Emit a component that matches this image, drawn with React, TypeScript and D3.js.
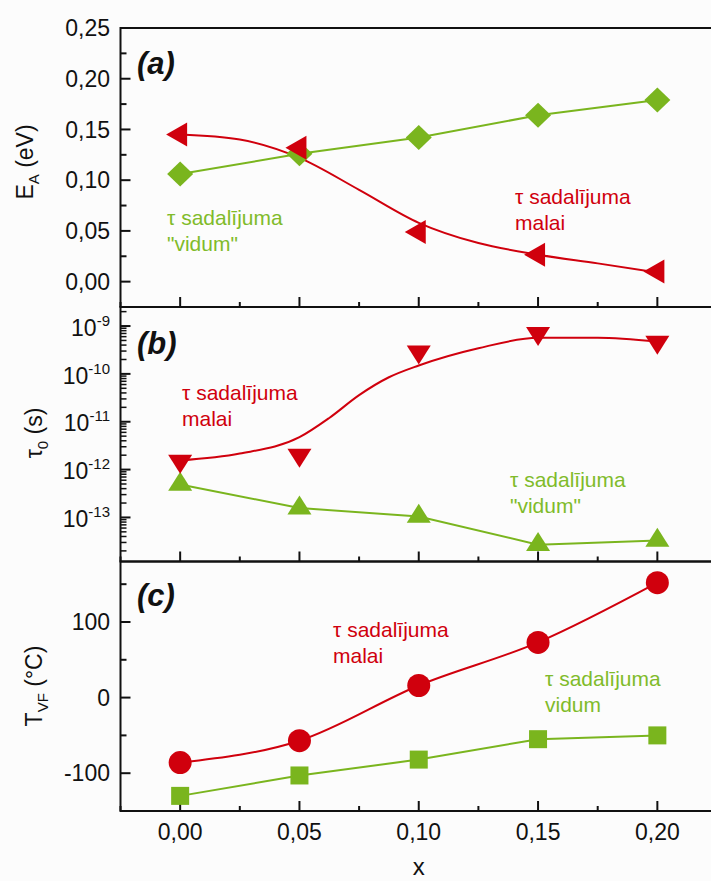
import React from 'react';
import * as d3 from 'd3';

// Composition x shared by the three panels
const X_VALUES = [0, 0.05, 0.1, 0.15, 0.2];
const X_TICKS = [0, 0.05, 0.1, 0.15, 0.2];
const X_MINOR = [-0.025, 0.025, 0.075, 0.125, 0.175];

// (a) activation energy E_A (eV)
const EA_MIDDLE = [0.106, 0.126, 0.142, 0.164, 0.179];
const EA_EDGE = [0.145, 0.132, 0.049, 0.0266, 0.0101];
const EA_FIT_X = [0, 0.025, 0.05, 0.075, 0.1, 0.125, 0.15, 0.175, 0.2];
const EA_EDGE_FIT = [0.145, 0.14, 0.122, 0.0905, 0.058, 0.038, 0.0266, 0.018, 0.009];
const EA_TICKS = [0, 0.05, 0.1, 0.15, 0.2, 0.25];
const EA_MINOR = [-0.025, 0.025, 0.075, 0.125, 0.175, 0.225];

// (b) pre-exponential time tau_0 (s)
const TAU_MIDDLE = [4.9e-13, 1.57e-13, 1.05e-13, 2.7e-14, 3.3e-14];
const TAU_EDGE = [1.5e-12, 2.0e-12, 2.9e-10, 7.0e-10, 4.6e-10];
const TAU_FIT_X = [0, 0.025, 0.05, 0.0625, 0.075, 0.0875, 0.1, 0.125, 0.15, 0.175, 0.2];
const TAU_EDGE_FIT = [
  1.55e-12, 2.16e-12, 4.75e-12, 1.2e-11, 3.6e-11, 8.5e-11, 1.5e-10, 3.44e-10, 5.66e-10, 5.66e-10, 4.67e-10,
];
const TAU_DECADES = [-13, -12, -11, -10, -9];

// (c) Vogel-Fulcher temperature T_VF (°C)
const TVF_EDGE = [-86, -57, 16, 73, 152];
const TVF_MIDDLE = [-130, -103, -82, -55, -50];
const TVF_TICKS = [-100, 0, 100];
const TVF_MINOR = [-150, -50, 50, 150];

const RED = '#d0000d';
const GREEN = '#7ab51e';
const LABEL_GREEN = '#80bb2a';
const FONT = '"Liberation Sans", Arial, Helvetica, sans-serif';

const fmt2 = (v: number) => d3.format('.2f')(v).replace('.', ',');

export default function App() {
  const x = d3.scaleLinear().domain([-0.025, 0.225]).range([120.5, 717]);
  const yA = d3.scaleLinear().domain([-0.025, 0.25]).range([307, 28]);
  const yB = d3.scaleLog().domain([1.2e-14, 2.5e-9]).range([561.5, 307]);
  const yC = d3.scaleLinear().domain([-150, 180]).range([811, 561.5]);

  const left = x(-0.025);
  const right = x(0.225);

  const straight = (ys: number[], y: (v: number) => number) =>
    d3.line<number>().x((_, i) => x(X_VALUES[i])).y((v) => y(v))(ys) || '';
  const smooth = (xs: number[], ys: number[], y: (v: number) => number) =>
    d3
      .line<number>()
      .x((_, i) => x(xs[i]))
      .y((v) => y(v))
      .curve(d3.curveMonotoneX)(ys) || '';

  const diamond = (cx: number, cy: number) =>
    `M${cx},${cy - 12.5}L${cx + 13},${cy}L${cx},${cy + 12.5}L${cx - 13},${cy}Z`;
  const leftTri = (cx: number, cy: number) => {
    const w = 21, h = 24;
    return `M${cx - (2 * w) / 3},${cy}L${cx + w / 3},${cy - h / 2}L${cx + w / 3},${cy + h / 2}Z`;
  };
  const downTri = (cx: number, cy: number) => {
    const w = 24, h = 19;
    return `M${cx - w / 2},${cy - h / 3}L${cx + w / 2},${cy - h / 3}L${cx},${cy + (2 * h) / 3}Z`;
  };
  const upTri = (cx: number, cy: number) => {
    const w = 24, h = 19;
    return `M${cx - w / 2},${cy + h / 3}L${cx + w / 2},${cy + h / 3}L${cx},${cy - (2 * h) / 3}Z`;
  };

  const panels = [
    { top: yA.range()[1], bottom: yA.range()[0] },
    { top: yB.range()[1], bottom: yB.range()[0] },
    { top: yC.range()[1], bottom: yC.range()[0] },
  ];

  const logMinor: number[] = [];
  for (let e = -14; e <= -9; e++) {
    for (let m = 2; m <= 9; m++) {
      const v = m * Math.pow(10, e);
      const [d0, d1] = yB.domain();
      if (v > d0 && v < d1) logMinor.push(v);
    }
  }

  const tickLabel = { fontFamily: FONT, fontSize: 23, fill: '#111' } as const;
  const noteStyle = (color: string) => ({ fontFamily: FONT, fontSize: 21, fill: color });

  const note = (lines: string[], tx: number, ty: number, color: string) => (
    <text x={tx} y={ty} style={noteStyle(color)}>
      {lines.map((l, i) => (
        <tspan key={i} x={tx} dy={i === 0 ? 0 : 26}>
          {l}
        </tspan>
      ))}
    </text>
  );

  return (
    <svg
      width={711}
      height={881}
      style={{ position: 'absolute', left: 0, top: 0, display: 'block' }}
    >
      <rect x={0} y={0} width={711} height={881} fill="#fcfcfc" />

      {/* frames and bottom ticks of each panel */}
      {panels.map((p, i) => (
        <g key={i}>
          <rect
            x={left}
            y={p.top}
            width={right - left}
            height={p.bottom - p.top}
            fill="none"
            stroke="#111"
            strokeWidth={2}
          />
          {X_TICKS.map((t) => (
            <line key={'M' + t} x1={x(t)} x2={x(t)} y1={p.bottom} y2={p.bottom - 10} stroke="#111" strokeWidth={2} />
          ))}
          {X_MINOR.map((t) => (
            <line key={'m' + t} x1={x(t)} x2={x(t)} y1={p.bottom} y2={p.bottom - 5} stroke="#111" strokeWidth={2} />
          ))}
        </g>
      ))}

      {/* (a) left axis */}
      {EA_TICKS.map((t) => (
        <g key={'a' + t}>
          <line x1={left} x2={left + 10} y1={yA(t)} y2={yA(t)} stroke="#111" strokeWidth={2} />
          <text x={110} y={yA(t)} dy="0.36em" textAnchor="end" style={tickLabel}>
            {fmt2(t)}
          </text>
        </g>
      ))}
      {EA_MINOR.map((t) => (
        <line key={'am' + t} x1={left} x2={left + 6} y1={yA(t)} y2={yA(t)} stroke="#111" strokeWidth={2} />
      ))}

      {/* (b) left log axis */}
      {TAU_DECADES.map((e) => {
        const v = Math.pow(10, e);
        return (
          <g key={'b' + e}>
            <line x1={left} x2={left + 10} y1={yB(v)} y2={yB(v)} stroke="#111" strokeWidth={2} />
            <text x={110} y={yB(v)} dy="0.42em" textAnchor="end" style={tickLabel}>
              <tspan>10</tspan>
              <tspan dy={-10} fontSize={15}>
                {String(e)}
              </tspan>
            </text>
          </g>
        );
      })}
      {logMinor.map((v) => (
        <line key={'bm' + v} x1={left} x2={left + 6} y1={yB(v)} y2={yB(v)} stroke="#111" strokeWidth={1.5} />
      ))}

      {/* (c) left axis */}
      {TVF_TICKS.map((t) => (
        <g key={'c' + t}>
          <line x1={left} x2={left + 10} y1={yC(t)} y2={yC(t)} stroke="#111" strokeWidth={2} />
          <text x={110} y={yC(t)} dy="0.36em" textAnchor="end" style={tickLabel}>
            {String(t)}
          </text>
        </g>
      ))}
      {TVF_MINOR.map((t) => (
        <line key={'cm' + t} x1={left} x2={left + 6} y1={yC(t)} y2={yC(t)} stroke="#111" strokeWidth={2} />
      ))}

      {/* x tick labels */}
      {X_TICKS.map((t) => (
        <text key={'xl' + t} x={x(t)} y={840} textAnchor="middle" style={tickLabel}>
          {fmt2(t)}
        </text>
      ))}
      <text x={x(0.1)} y={875} textAnchor="middle" style={{ fontFamily: FONT, fontSize: 24, fill: '#111' }}>
        x
      </text>

      {/* axis titles */}
      <text transform="translate(33,162) rotate(-90)" textAnchor="middle" style={{ fontFamily: FONT, fontSize: 23, fill: '#111' }}>
        <tspan>E</tspan>
        <tspan dy={6} fontSize={15}>A</tspan>
        <tspan dy={-6}> (eV)</tspan>
      </text>
      <text transform="translate(42,433) rotate(-90)" textAnchor="middle" style={{ fontFamily: FONT, fontSize: 23, fill: '#111' }}>
        <tspan>τ</tspan>
        <tspan dy={6} fontSize={15}>0</tspan>
        <tspan dy={-6}> (s)</tspan>
      </text>
      <text transform="translate(42,686) rotate(-90)" textAnchor="middle" style={{ fontFamily: FONT, fontSize: 23, fill: '#111' }}>
        <tspan>T</tspan>
        <tspan dy={6} fontSize={15}>VF</tspan>
        <tspan dy={-6}> (°C)</tspan>
      </text>

      {/* panel letters */}
      {[
        ['(a)', 74],
        ['(b)', 354],
        ['(c)', 606],
      ].map(([s, yy]) => (
        <text
          key={s as string}
          x={137}
          y={yy as number}
          style={{ fontFamily: FONT, fontSize: 31, fontWeight: 'bold', fontStyle: 'italic', fill: '#111' }}
        >
          {s}
        </text>
      ))}

      {/* (a) series */}
      <path d={straight(EA_MIDDLE, yA)} fill="none" stroke={GREEN} strokeWidth={2} />
      <path d={smooth(EA_FIT_X, EA_EDGE_FIT, yA)} fill="none" stroke={RED} strokeWidth={2} />
      {EA_MIDDLE.map((v, i) => (
        <path key={'ad' + i} d={diamond(x(X_VALUES[i]), yA(v))} fill={GREEN} />
      ))}
      {EA_EDGE.map((v, i) => (
        <path key={'at' + i} d={leftTri(x(X_VALUES[i]), yA(v))} fill={RED} />
      ))}
      {note(['τ sadalījuma', '"vidum"'], 167, 225, LABEL_GREEN)}
      {note(['τ sadalījuma', 'malai'], 515, 204, RED)}

      {/* (b) series */}
      <path d={straight(TAU_MIDDLE, yB)} fill="none" stroke={GREEN} strokeWidth={2} />
      <path d={smooth(TAU_FIT_X, TAU_EDGE_FIT, yB)} fill="none" stroke={RED} strokeWidth={2} />
      {TAU_MIDDLE.map((v, i) => (
        <path key={'bu' + i} d={upTri(x(X_VALUES[i]), yB(v))} fill={GREEN} />
      ))}
      {TAU_EDGE.map((v, i) => (
        <path key={'bd' + i} d={downTri(x(X_VALUES[i]), yB(v))} fill={RED} />
      ))}
      {note(['τ sadalījuma', 'malai'], 182, 400, RED)}
      {note(['τ sadalījuma', '"vidum"'], 510, 487, LABEL_GREEN)}

      {/* (c) series */}
      <path d={straight(TVF_MIDDLE, yC)} fill="none" stroke={GREEN} strokeWidth={2} />
      <path d={smooth(X_VALUES, TVF_EDGE, yC)} fill="none" stroke={RED} strokeWidth={2} />
      {TVF_MIDDLE.map((v, i) => (
        <rect key={'cs' + i} x={x(X_VALUES[i]) - 9} y={yC(v) - 9} width={18} height={18} fill={GREEN} />
      ))}
      {TVF_EDGE.map((v, i) => (
        <circle key={'cc' + i} cx={x(X_VALUES[i])} cy={yC(v)} r={11.5} fill={RED} />
      ))}
      {note(['τ sadalījuma', 'malai'], 333, 637, RED)}
      {note(['τ sadalījuma', 'vidum'], 545, 686, LABEL_GREEN)}
    </svg>
  );
}
